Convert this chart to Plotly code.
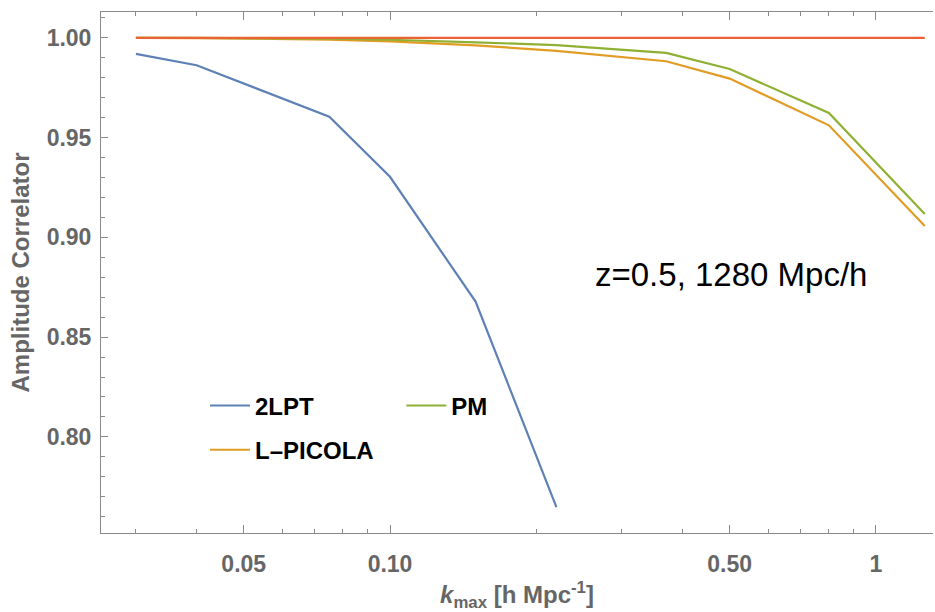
import plotly.graph_objects as go

# ---- data ----
k_2lpt = [0.03, 0.04, 0.075, 0.1, 0.15, 0.22]
amp_2lpt = [0.992, 0.9863, 0.9605, 0.9304, 0.8678, 0.7648]

k_full = [0.03, 0.04, 0.075, 0.1, 0.15, 0.22, 0.37, 0.5, 0.8, 1.26]
amp_lpicola = [1.000, 0.9999, 0.9992, 0.9983, 0.9963, 0.9935, 0.9883, 0.9796, 0.9562, 0.9057]
amp_pm = [1.000, 1.000, 0.9996, 0.9991, 0.9978, 0.9964, 0.9925, 0.9844, 0.9624, 0.9117]
amp_ref = [1.0, 1.0, 1.0, 1.0, 1.0, 1.0, 1.0, 1.0, 1.0, 1.0]

x_tickvals = [0.05, 0.1, 0.5, 1]
x_ticktext = ["0.05", "0.10", "0.50", "1"]
x_minor = [0.03, 0.04, 0.06, 0.07, 0.08, 0.09, 0.2, 0.3, 0.4, 0.6, 0.7, 0.8, 0.9]
y_tickvals = [0.80, 0.85, 0.90, 0.95, 1.00]
y_ticktext = ["0.80", "0.85", "0.90", "0.95", "1.00"]
y_minor = [0.76, 0.77, 0.78, 0.79, 0.81, 0.82, 0.83, 0.84, 0.86, 0.87, 0.88, 0.89,
           0.91, 0.92, 0.93, 0.94, 0.96, 0.97, 0.98, 0.99, 1.01]

BLUE = "#5E81B5"
ORANGE = "#E19C24"
GREEN = "#8FB032"
RED = "#EB6235"
AXIS = "#8a8a8a"
LABEL = "#666666"
FONT = "Liberation Sans"

fig = go.Figure()
fig.add_trace(go.Scatter(x=k_2lpt, y=amp_2lpt, mode="lines", name="2LPT",
                         line=dict(color=BLUE, width=2.2), legend="legend"))
fig.add_trace(go.Scatter(x=k_full, y=amp_lpicola, mode="lines", name="L\u2013PICOLA",
                         line=dict(color=ORANGE, width=2.2), legend="legend2"))
fig.add_trace(go.Scatter(x=k_full, y=amp_pm, mode="lines", name="PM",
                         line=dict(color=GREEN, width=2.2), legend="legend3"))
fig.add_trace(go.Scatter(x=k_full, y=amp_ref, mode="lines", name="N-body",
                         line=dict(color=RED, width=2.2), showlegend=False))

legend_common = dict(font=dict(family=FONT, size=24, color="black", weight="bold"),
                     bgcolor="rgba(0,0,0,0)", xanchor="left", yanchor="middle",
                     itemwidth=40, tracegroupgap=0)

fig.update_layout(
    width=935, height=612,
    margin=dict(l=101, r=2, t=12, b=79),
    plot_bgcolor="white", paper_bgcolor="white",
    showlegend=True,
    legend=dict(x=0.125, y=0.244, **legend_common),
    legend2=dict(x=0.125, y=0.159, **legend_common),
    legend3=dict(x=0.361, y=0.244, **legend_common),
    xaxis=dict(
        type="log", range=[-1.5947, 0.1173],
        tickvals=x_tickvals, ticktext=x_ticktext,
        ticks="inside", ticklen=8, tickwidth=1, tickcolor=AXIS,
        minor=dict(tickvals=x_minor, ticks="inside", ticklen=4, tickcolor=AXIS, tickwidth=1),
        showline=True, linecolor=AXIS, linewidth=1, mirror="ticks",
        showgrid=False, zeroline=False,
        tickfont=dict(family=FONT, size=23, color=LABEL, weight="bold"),
        ticklabelstandoff=10,
        title=dict(text="<i>k</i><sub>max</sub> [h Mpc<sup>-1</sup>]",
                   font=dict(family=FONT, size=24, color=LABEL, weight="bold"),
                   standoff=14),
    ),
    yaxis=dict(
        range=[0.7518, 1.013],
        tickvals=y_tickvals, ticktext=y_ticktext,
        ticks="inside", ticklen=7, tickwidth=1, tickcolor=AXIS,
        minor=dict(tickvals=y_minor, ticks="inside", ticklen=4, tickcolor=AXIS, tickwidth=1),
        showline=True, linecolor=AXIS, linewidth=1, mirror=False,
        showgrid=False, zeroline=False,
        tickfont=dict(family=FONT, size=23, color=LABEL, weight="bold"),
        ticklabelstandoff=4,
        title=dict(text="Amplitude Correlator",
                   font=dict(family=FONT, size=24, color=LABEL, weight="bold"),
                   standoff=10),
    ),
    annotations=[dict(text="z=0.5, 1280 Mpc/h", x=0.757, y=0.496, xref="paper", yref="paper",
                      xanchor="center", yanchor="middle", showarrow=False,
                      font=dict(family=FONT, size=33, color="black"))],
)

fig.write_html("out.html")
